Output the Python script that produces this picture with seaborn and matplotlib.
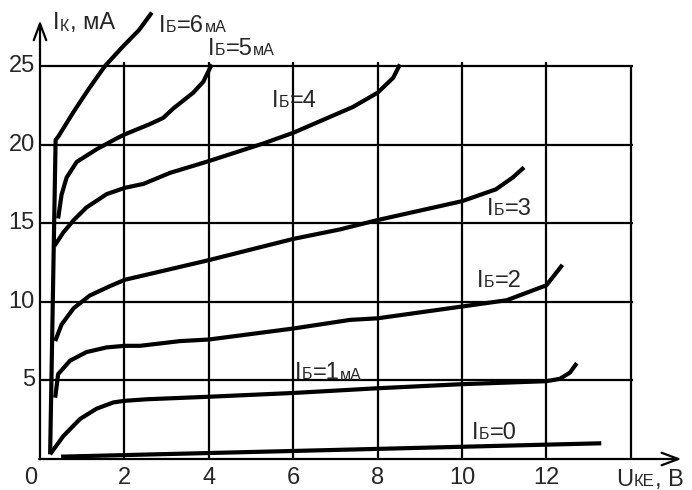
import matplotlib
matplotlib.use("Agg")
import matplotlib.pyplot as plt
import numpy as np
import pandas as pd
import seaborn as sns

# ---------------- data ----------------
ib0_u = [0.5, 7.35, 13.3]
ib0_i = [0.15, 0.6, 1.0]

ib1_u = [0.24, 0.55, 0.95, 1.34, 1.74, 2.0, 2.53, 4, 6, 8, 10, 12, 12.32, 12.56, 12.72]
ib1_i = [0.3, 1.45, 2.55, 3.2, 3.6, 3.7, 3.8, 3.96, 4.2, 4.5, 4.76, 4.95, 5.1, 5.5, 6.1]

ib2_u = [0.36, 0.43, 0.71, 1.1, 1.58, 2.01, 2.37, 3.32, 4, 6, 7.35, 8, 10, 11.06, 12, 12.38]
ib2_i = [3.9, 5.4, 6.25, 6.8, 7.1, 7.2, 7.2, 7.5, 7.6, 8.3, 8.85, 8.95, 9.7, 10.1, 11.05, 12.35]

ib3_u = [0.36, 0.51, 0.8, 1.18, 1.66, 2.01, 4, 6, 7.1, 8, 10, 10.8, 11.2, 11.47]
ib3_i = [7.5, 8.55, 9.6, 10.4, 11.0, 11.4, 12.65, 14.0, 14.6, 15.2, 16.4, 17.15, 17.9, 18.55]

ib4_u = [0.34, 0.55, 0.8, 1.1, 1.58, 2.01, 2.45, 3.08, 4, 5.29, 6, 7.42, 8, 8.37, 8.53]
ib4_i = [13.55, 14.4, 15.2, 16.0, 16.85, 17.25, 17.5, 18.2, 18.95, 20.07, 20.75, 22.4, 23.3, 24.25, 25.1]

ib5_u = [0.43, 0.51, 0.63, 0.87, 1.34, 1.82, 2.01, 2.6, 2.92, 3.16, 3.63, 3.87, 4.07]
ib5_i = [15.3, 16.8, 17.9, 18.9, 19.7, 20.4, 20.65, 21.3, 21.7, 22.3, 23.3, 24.0, 25.1]

ib6_u = [0.24, 0.37, 0.43, 0.8, 1.17, 1.54, 1.95, 2.35, 2.65]
ib6_i = [0.3, 20.3, 20.5, 22.1, 23.6, 25.0, 26.2, 27.3, 28.4]

x_ticks = [0, 2, 4, 6, 8, 10, 12]
y_ticks = [5, 10, 15, 20, 25]
grid_x = [2, 4, 6, 8, 10, 12, 14]
grid_y = [5, 10, 15, 20, 25]

curves = {
    "0": (ib0_u, ib0_i), "1": (ib1_u, ib1_i), "2": (ib2_u, ib2_i),
    "3": (ib3_u, ib3_i), "4": (ib4_u, ib4_i), "5": (ib5_u, ib5_i),
    "6": (ib6_u, ib6_i),
}
rows = []
for name, (u, i) in curves.items():
    for k, (uu, ii) in enumerate(zip(u, i)):
        rows.append({"curve": name, "order": k, "U": uu, "I": ii})
df = pd.DataFrame(rows)

# ---------------- figure ----------------
sns.set_style("white")
plt.rcParams["font.family"] = ["Liberation Sans", "DejaVu Sans"]

W, H, DPI = 692, 490, 100
fig = plt.figure(figsize=(W / DPI, H / DPI), dpi=DPI)
ax = fig.add_axes([0, 0, 1, 1])
X0, Y0, SX, SY = 40.0, 459.0, 42.2, 15.72
ax.set_xlim(-X0 / SX, (W - X0) / SX)
ax.set_ylim((Y0 - H) / SY, Y0 / SY)
ax.axis("off")


def pd_(px, py):
    return (px - X0) / SX, (Y0 - py) / SY


# grid
ax.hlines(grid_y, 0, 14.05, color="black", lw=1.6, zorder=1)
ax.vlines(grid_x[:-1], 0, 25.25, color="black", lw=1.6, zorder=1)
ax.vlines(grid_x[-1:], 0, 25, color="black", lw=1.6, zorder=1)

# curves
sns.lineplot(data=df, x="U", y="I", units="curve", estimator=None, sort=False,
             color="black", lw=3.0, ax=ax, legend=False, zorder=3)
for ln in ax.get_lines():
    ln.set_solid_joinstyle("round")
    ln.set_solid_capstyle("butt")

# axes with arrows
arrow = dict(arrowstyle="->,head_length=1.2,head_width=0.45", lw=1.6,
             color="black", shrinkA=0, shrinkB=0)
ax.annotate("", xy=(15.2, 0), xytext=(-0.02, 0), arrowprops=arrow, zorder=2)
ax.annotate("", xy=(0, 27.9), xytext=(0, -0.02), arrowprops=arrow, zorder=2)

FS = 17
SM = 11.5

# tick labels
for v in x_ticks:
    if v == 0:
        ax.text(*pd_(31, 478), "0", fontsize=FS, ha="center", va="center")
    else:
        ax.text(v, pd_(0, 478)[1], str(v), fontsize=FS, ha="center", va="center")
for v in y_ticks:
    ax.text(pd_(35, 0)[0], v, str(v), fontsize=FS, ha="right", va="center")

fig.canvas.draw()
renderer = fig.canvas.get_renderer()


def rich(px, py, pieces):
    """pieces: list of (text, fontsize, baseline_shift_px)"""
    x = px
    for s, fs, dy in pieces:
        t = ax.text(*pd_(x, py + dy), s, fontsize=fs, ha="left", va="baseline")
        bb = t.get_window_extent(renderer)
        x += bb.width + 0.5


rich(53, 29, [("I", FS, 0), ("К", SM, 2), (", мА", FS, 0)])
rich(159, 32, [("I", FS, 0), ("Б", SM, 0), ("=6", FS, 0), ("мА", SM, 0)])
rich(208, 55, [("I", FS, 0), ("Б", SM, 0), ("=5", FS, 0), ("мА", SM, 0)])
rich(272, 107, [("I", FS, 0), ("Б", SM, 0), ("=4", FS, 0)])
rich(487, 215, [("I", FS, 0), ("Б", SM, 0), ("=3", FS, 0)])
rich(477, 287, [("I", FS, 0), ("Б", SM, 0), ("=2", FS, 0)])
rich(295, 379, [("I", FS, 0), ("Б", SM, 0), ("=1", FS, 0), ("мА", SM, 1)])
rich(472, 439, [("I", FS, 0), ("Б", SM, 0), ("=0", FS, 0)])
rich(616, 486, [("U", FS, 0), ("КЕ", SM + 0.5, 0), (", В", FS, 0)])

fig.savefig("out.png", dpi=DPI)
